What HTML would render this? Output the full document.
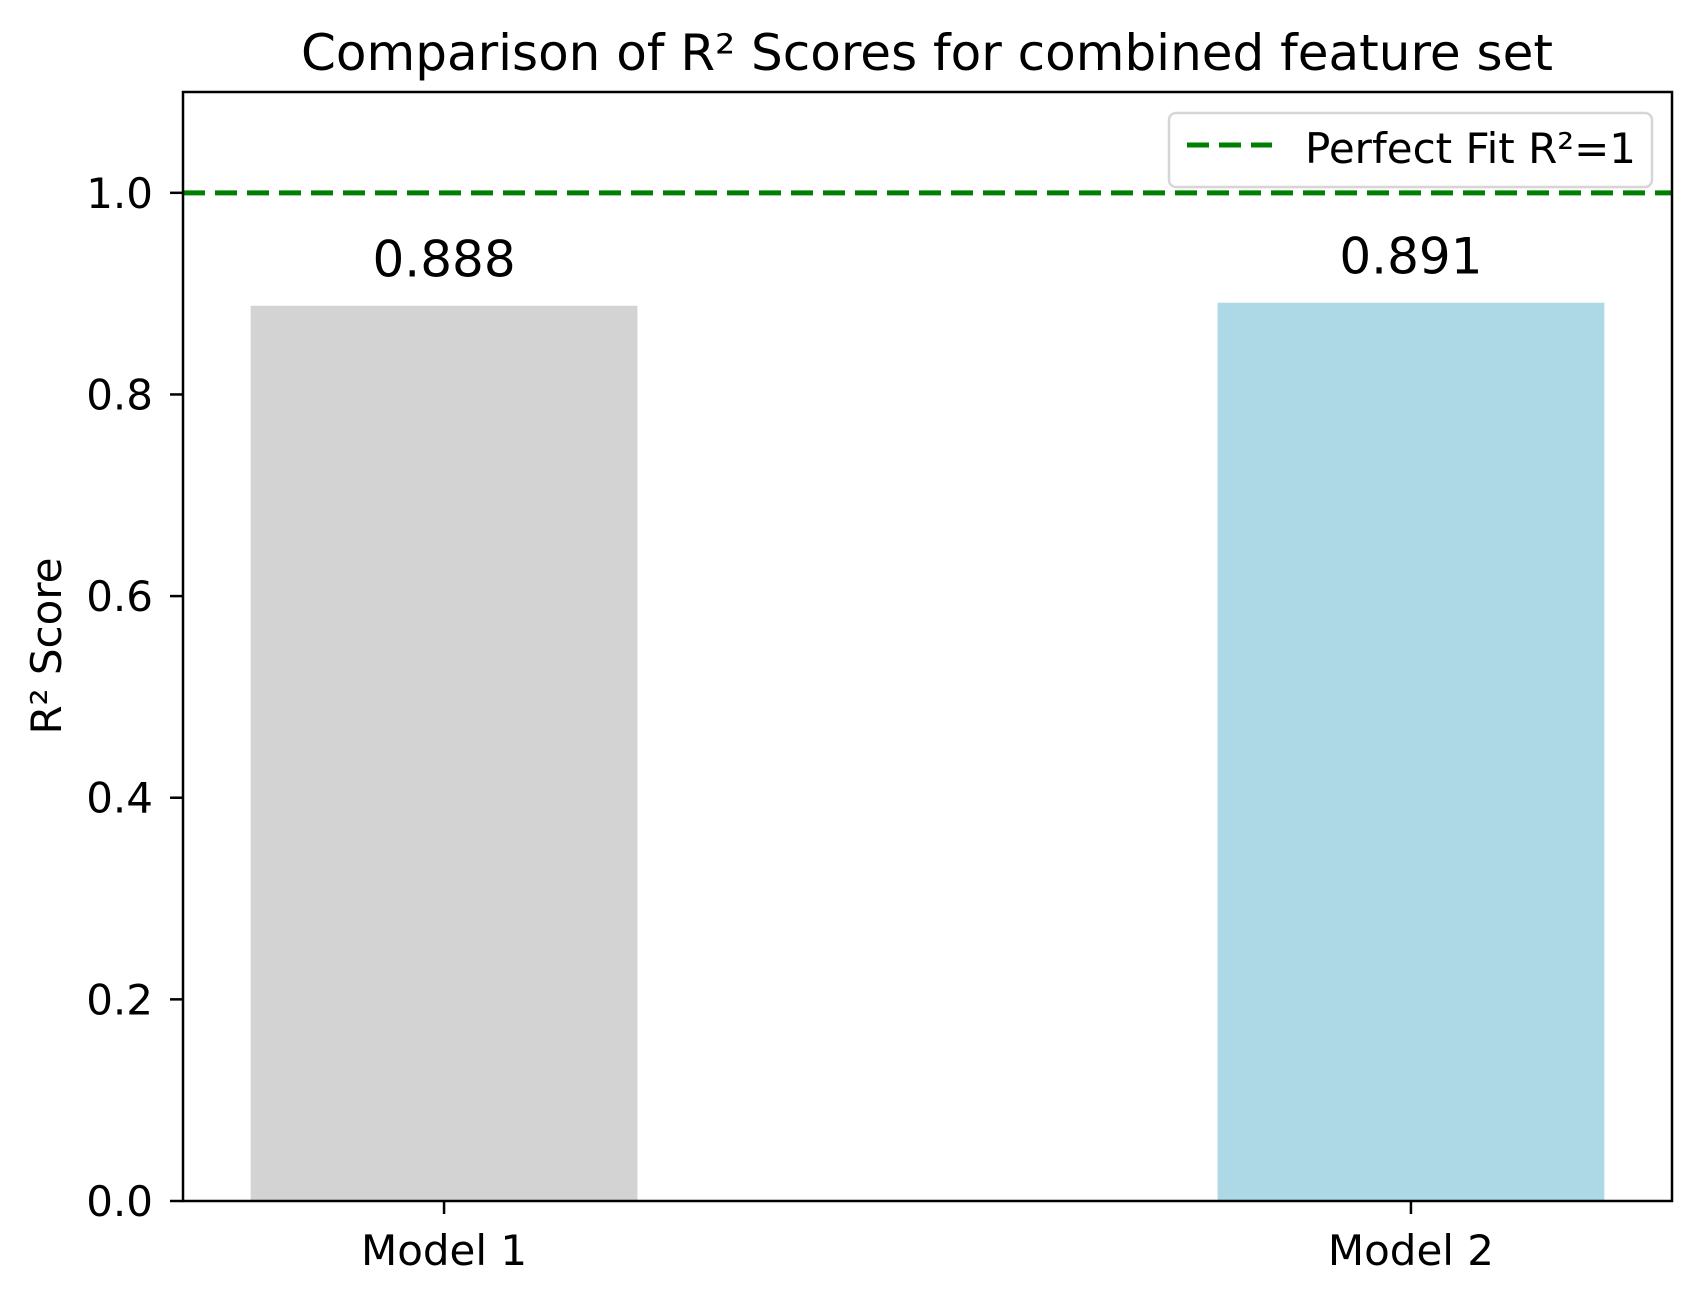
<!DOCTYPE html>
<html><head><meta charset="utf-8"><style>
html,body{margin:0;padding:0;background:#fff;}
svg{display:block;font-family:"DejaVu Sans","Liberation Sans",sans-serif;}
</style></head><body>
<svg id="chart" width="1700" height="1300" viewBox="0 0 1700 1300">
<rect x="0" y="0" width="1700" height="1300" fill="#fff"/>
<text x="927" y="70" font-size="50" text-anchor="middle" fill="#000">Comparison of R² Scores for combined feature set</text>
<g id="bars"></g>
<g id="yticks"></g>
<g id="xticks"></g>
<g id="refline"></g>
<rect x="183" y="92" width="1489" height="1109" fill="none" stroke="#000" stroke-width="2.5"/>
<text transform="translate(61,646) rotate(-90)" font-size="42" text-anchor="middle" fill="#000">R² Score</text>
<g>
<rect x="1169" y="113" width="483" height="74" rx="7" fill="#fff" fill-opacity="0.8" stroke="#d6d6d6" stroke-width="2.5"/>
<line x1="1187" y1="145" x2="1272" y2="145" stroke="#008000" stroke-width="5" stroke-dasharray="22 10"/>
<text x="1305" y="163" font-size="42" fill="#000">Perfect Fit R²=1</text>
</g>
</svg>
<script>
const categories = ["Model 1", "Model 2"];
const scores = [0.888, 0.891];
const barColors = ["#d3d3d3", "#add8e6"];
const yTickValues = [0.0, 0.2, 0.4, 0.6, 0.8, 1.0];
const refValue = 1.0;

const NS = "http://www.w3.org/2000/svg";
const L = 183, R = 1672, T = 92, B = 1201;
const xMin = -0.27, xMax = 1.27, yMin = 0, yMax = 1.1;
function xs(v){ return L + (v - xMin) / (xMax - xMin) * (R - L); }
function ys(v){ return B - (v - yMin) / (yMax - yMin) * (B - T); }
function mk(tag, attrs, parent){ const e = document.createElementNS(NS, tag); for (const k in attrs) e.setAttribute(k, attrs[k]); parent.appendChild(e); return e; }

const barsG = document.getElementById('bars');
const xG = document.getElementById('xticks');
categories.forEach((c, i) => {
  const w = xs(0.4) - xs(0);
  const cx = xs(i);
  const r = mk('rect', {x: cx - w/2, y: ys(scores[i]), width: w, height: ys(0) - ys(scores[i]), fill: barColors[i]}, barsG);
  
  
  const lbl = mk('text', {x: cx, y: ys(scores[i]) - 29, 'font-size': 50, 'text-anchor': 'middle', fill: '#000'}, barsG);
  lbl.textContent = scores[i].toFixed(3);
  
  
  const t = mk('line', {x1: cx, x2: cx, y1: B, y2: B + 13, stroke: '#000', 'stroke-width': 2.5}, xG);
  
  
  const tl = mk('text', {x: cx, y: 1265, 'font-size': 42, 'text-anchor': 'middle', fill: '#000'}, xG);
  tl.textContent = c;
  
  
});

const yG = document.getElementById('yticks');
yTickValues.forEach(v => {
  const y = ys(v);
  const t = mk('line', {x1: L - 13, x2: L, y1: y, y2: y, stroke: '#000', 'stroke-width': 2.5}, yG);
  
  
  const tl = mk('text', {x: 153, y: y + 15, 'font-size': 42, 'text-anchor': 'end', fill: '#000'}, yG);
  tl.textContent = v.toFixed(1);
  
  
});

const refG = document.getElementById('refline');
const rl = mk('line', {x1: L, x2: R, y1: ys(refValue), y2: ys(refValue), stroke: '#008000', 'stroke-width': 5, 'stroke-dasharray': '22 10'}, refG);


</script>
</body></html>
